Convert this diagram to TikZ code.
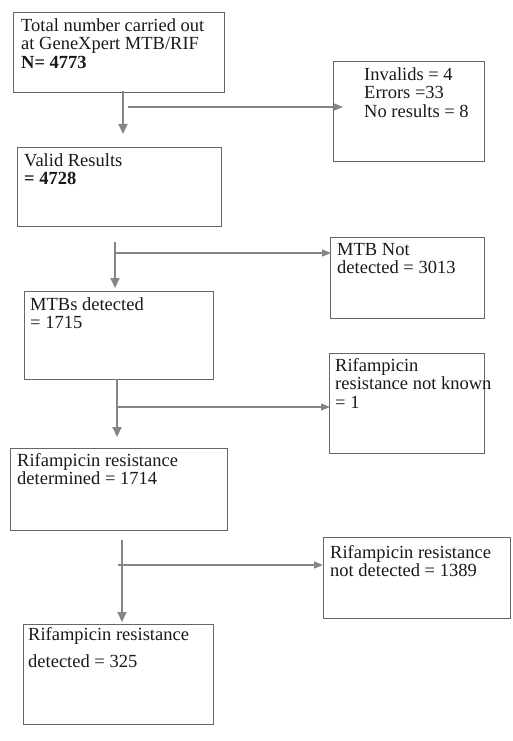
\documentclass[tikz,border=0pt]{standalone}
\usepackage{fontspec}
\setmainfont{Liberation Serif}
\usetikzlibrary{arrows.meta}
\definecolor{boxline}{HTML}{666666}
\definecolor{arrowc}{HTML}{858585}
\begin{document}
\begin{tikzpicture}[x=1pt,y=-1pt,
  box/.style={draw=boxline,line width=1pt},
  txt/.style={anchor=north west,inner sep=0pt,align=left,text=black!90,font=\fontsize{18.5}{18.6}\selectfont},
  flow/.style={draw=arrowc,line width=1.8pt,-{Triangle[length=10pt,width=9pt]}},
  branch/.style={draw=arrowc,line width=1.3pt,-{Triangle[length=9pt,width=7pt]}}]
\useasboundingbox (0,0) rectangle (512,741);
% boxes
\draw[box] (13,13) rectangle (224,93);
\draw[box] (333,62) rectangle (484,161);
\draw[box] (17,147) rectangle (221,226);
\draw[box] (330,237) rectangle (484,318);
\draw[box] (24,291) rectangle (213,379);
\draw[box] (329,353) rectangle (484,453);
\draw[box] (10,448) rectangle (227,530);
\draw[box] (323,537) rectangle (510,618);
\draw[box] (23,624) rectangle (213,724);
% texts
\node[txt] (t1) at (21,18) {Total number carried out\\at GeneXpert MTB/RIF\\\textbf{N= 4773}};
\node[txt] (tinv) at (364,67) {Invalids = 4\\Errors =33\\No results = 8};
\node[txt] (t2) at (24,153) {Valid Results\\\textbf{= 4728}};
\node[txt] (tnot) at (337,243) {MTB Not\\detected = 3013};
\node[txt] (t3) at (30,297) {MTBs detected\\= 1715};
\node[txt] (tunk) at (335,358) {Rifampicin\\resistance not known\\= 1};
\node[txt] (t4) at (17,453) {Rifampicin resistance\\determined = 1714};
\node[txt] (tnd) at (330,545) {Rifampicin resistance\\not detected = 1389};
\node[txt,font=\fontsize{18.5}{27}\selectfont] (t5) at (28,627) {Rifampicin resistance\\detected = 325};
% connector coordinates
\coordinate (v1s) at (123,91);  \coordinate (v1e) at (123,134);
\coordinate (h1s) at (128,107); \coordinate (h1e) at (343,107);
\coordinate (v2s) at (115,242); \coordinate (v2e) at (115,288);
\coordinate (h2s) at (115,253); \coordinate (h2e) at (331,253);
\coordinate (v3s) at (117,379); \coordinate (v3e) at (117,437);
\coordinate (h3s) at (117,407); \coordinate (h3e) at (330,407);
\coordinate (v4s) at (122,540); \coordinate (v4e) at (122,622);
\coordinate (h4s) at (118,565); \coordinate (h4e) at (323,565);
\draw[flow] (v1s) -- (v1e);
\draw[branch] (h1s) -- (h1e);
\draw[flow] (v2s) -- (v2e);
\draw[branch] (h2s) -- (h2e);
\draw[flow] (v3s) -- (v3e);
\draw[branch] (h3s) -- (h3e);
\draw[flow] (v4s) -- (v4e);
\draw[branch] (h4s) -- (h4e);
\end{tikzpicture}
\end{document}
